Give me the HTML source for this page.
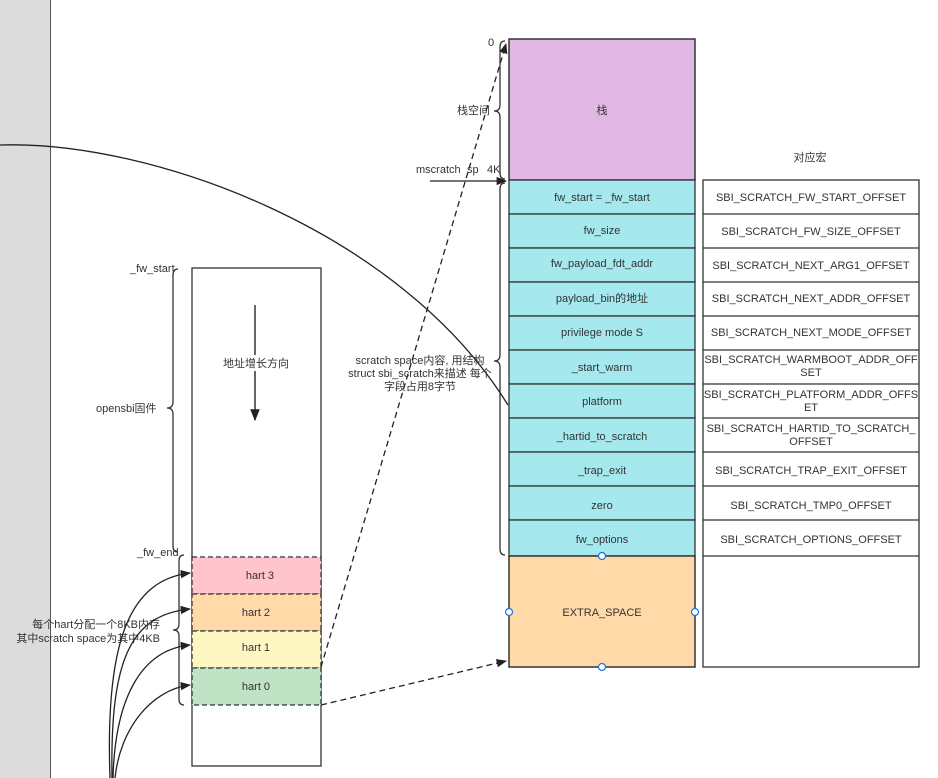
<!DOCTYPE html>
<html><head><meta charset="utf-8"><style>
body{margin:0;background:#fff;}
svg{display:block;font-family:"Liberation Sans","Noto Sans CJK SC",sans-serif;}
text{font-size:11px;fill:#333;}
</style></head><body>
<svg width="938" height="778" viewBox="0 0 938 778" xmlns="http://www.w3.org/2000/svg">
<defs>
<marker id="ar" viewBox="0 0 10 10" refX="9" refY="5" markerWidth="8" markerHeight="8" orient="auto"><path d="M0,1 L10,5 L0,9 z" fill="#222"/></marker>
</defs>
<rect x="0" y="0" width="50" height="778" fill="#dcdcdc"/>
<line x1="50.5" y1="0" x2="50.5" y2="778" stroke="#555" stroke-width="1"/>

<!-- left box -->
<rect x="192" y="268" width="129" height="498" fill="#fff" stroke="#333" stroke-width="1.3"/>
<line x1="255" y1="305" x2="255" y2="420" stroke="#333" stroke-width="1.5" marker-end="url(#ar)"/>
<rect x="225" y="355" width="62" height="16" fill="#fff"/>
<text x="256" y="367" text-anchor="middle">地址增长方向</text>
<g stroke="#333" stroke-width="1.3" stroke-dasharray="5,3">
<rect x="192" y="557" width="129" height="37" fill="#ffc4cc"/>
<rect x="192" y="594" width="129" height="37" fill="#ffd9a8"/>
<rect x="192" y="631" width="129" height="37" fill="#fff7c2"/>
<rect x="192" y="668" width="129" height="37" fill="#bfe3c4"/>
</g>
<text x="260" y="579" text-anchor="middle">hart 3</text>
<text x="256" y="616" text-anchor="middle">hart 2</text>
<text x="256" y="651" text-anchor="middle">hart 1</text>
<text x="256" y="690" text-anchor="middle">hart 0</text>

<!-- left braces -->
<path d="M178,269 q-5,0 -5,6 v127 q0,6 -6,6 q6,0 6,6 v132 q0,6 5,6" fill="none" stroke="#333" stroke-width="1.3"/>
<text x="130" y="272">_fw_start</text>
<text x="96" y="412">opensbi固件</text>
<text x="137" y="556">_fw_end</text>
<path d="M184,555 q-5,0 -5,6 v63 q0,6 -6,6 q6,0 6,6 v63 q0,6 5,6" fill="none" stroke="#333" stroke-width="1.3"/>
<text x="160" y="628" text-anchor="end">每个hart分配一个8KB内存</text>
<text x="160" y="642" text-anchor="end">其中scratch space为其中4KB</text>

<!-- hart arrows -->
<g fill="none" stroke="#222" stroke-width="1.3" marker-end="url(#ar)">
<path d="M110,778 C105,640 130,580 190,573"/>
<path d="M112,778 C110,660 130,615 190,609"/>
<path d="M113,778 C115,700 140,650 190,645"/>
<path d="M115,778 C120,730 150,690 190,685"/>
</g>

<!-- big arc -->
<path d="M0,145 C150,140 400,230 508,405" fill="none" stroke="#222" stroke-width="1.3"/>

<!-- dashed lines -->
<g fill="none" stroke="#222" stroke-width="1.3" stroke-dasharray="6,4">
<path d="M321,667 L506,44" marker-end="url(#ar)"/>
<path d="M321,705 L506,661" marker-end="url(#ar)"/>
</g>

<!-- middle column -->
<rect x="509" y="39" width="186" height="141" fill="#e0b8e3" stroke="#333" stroke-width="1.5"/>
<text x="602" y="114" text-anchor="middle">栈</text>
<g stroke="#333" stroke-width="1.3" fill="#a5e8ee">
<rect x="509" y="180" width="186" height="34"/>
<rect x="509" y="214" width="186" height="34"/>
<rect x="509" y="248" width="186" height="34"/>
<rect x="509" y="282" width="186" height="34"/>
<rect x="509" y="316" width="186" height="34"/>
<rect x="509" y="350" width="186" height="34"/>
<rect x="509" y="384" width="186" height="34"/>
<rect x="509" y="418" width="186" height="34"/>
<rect x="509" y="452" width="186" height="34"/>
<rect x="509" y="486" width="186" height="34"/>
<rect x="509" y="520" width="186" height="36"/>
</g>
<rect x="509" y="556" width="186" height="111" fill="#ffd9a8" stroke="#333" stroke-width="1.5"/>
<g text-anchor="middle">
<text x="602" y="201">fw_start = _fw_start</text>
<text x="602" y="234">fw_size</text>
<text x="602" y="267">fw_payload_fdt_addr</text>
<text x="602" y="302">payload_bin的地址</text>
<text x="602" y="336">privilege mode S</text>
<text x="602" y="371">_start_warm</text>
<text x="602" y="405">platform</text>
<text x="602" y="440">_hartid_to_scratch</text>
<text x="602" y="474">_trap_exit</text>
<text x="602" y="509">zero</text>
<text x="602" y="543">fw_options</text>
<text x="602" y="616">EXTRA_SPACE</text>
</g>
<g fill="#fff" stroke="#1a73e8" stroke-width="1.2">
<circle cx="602" cy="556" r="3.5"/><circle cx="509" cy="612" r="3.5"/><circle cx="695" cy="612" r="3.5"/><circle cx="602" cy="667" r="3.5"/>
</g>

<!-- middle braces and labels -->
<path d="M505,41 q-5,0 -5,6 v58 q0,6 -6,6 q6,0 6,6 v56 q0,6 5,6" fill="none" stroke="#333" stroke-width="1.3"/>
<text x="488" y="46">0</text>
<text x="457" y="114">栈空间</text>
<text x="416" y="173">mscratch</text><text x="467" y="173">sp</text><text x="487" y="173">4K</text>
<line x1="430" y1="181" x2="506" y2="181" stroke="#222" stroke-width="1.3" marker-end="url(#ar)"/>
<path d="M505,183 q-5,0 -5,6 v166 q0,6 -6,6 q6,0 6,6 v182 q0,6 5,6" fill="none" stroke="#333" stroke-width="1.3"/>
<g text-anchor="middle">
<text x="420" y="364">scratch space内容, 用结构</text>
<text x="420" y="377">struct sbi_scratch来描述 每个</text>
<text x="420" y="390">字段占用8字节</text>
</g>

<!-- right table -->
<text x="810" y="161" text-anchor="middle">对应宏</text>
<g stroke="#333" stroke-width="1.3" fill="#fff">
<rect x="703" y="180" width="216" height="487"/>
<line x1="703" y1="214" x2="919" y2="214"/><line x1="703" y1="248" x2="919" y2="248"/>
<line x1="703" y1="282" x2="919" y2="282"/><line x1="703" y1="316" x2="919" y2="316"/>
<line x1="703" y1="350" x2="919" y2="350"/><line x1="703" y1="384" x2="919" y2="384"/>
<line x1="703" y1="418" x2="919" y2="418"/><line x1="703" y1="452" x2="919" y2="452"/>
<line x1="703" y1="486" x2="919" y2="486"/><line x1="703" y1="520" x2="919" y2="520"/>
<line x1="703" y1="556" x2="919" y2="556"/>
</g>
<g text-anchor="middle" style="font-size:10.5px">
<text x="811" y="201">SBI_SCRATCH_FW_START_OFFSET</text>
<text x="811" y="235">SBI_SCRATCH_FW_SIZE_OFFSET</text>
<text x="811" y="269">SBI_SCRATCH_NEXT_ARG1_OFFSET</text>
<text x="811" y="302">SBI_SCRATCH_NEXT_ADDR_OFFSET</text>
<text x="811" y="336">SBI_SCRATCH_NEXT_MODE_OFFSET</text>
<text x="811" y="363">SBI_SCRATCH_WARMBOOT_ADDR_OFF</text><text x="811" y="376">SET</text>
<text x="811" y="398">SBI_SCRATCH_PLATFORM_ADDR_OFFS</text><text x="811" y="411">ET</text>
<text x="811" y="432">SBI_SCRATCH_HARTID_TO_SCRATCH_</text><text x="811" y="445">OFFSET</text>
<text x="811" y="474">SBI_SCRATCH_TRAP_EXIT_OFFSET</text>
<text x="811" y="509">SBI_SCRATCH_TMP0_OFFSET</text>
<text x="811" y="543">SBI_SCRATCH_OPTIONS_OFFSET</text>
</g>
</svg>
</body></html>
